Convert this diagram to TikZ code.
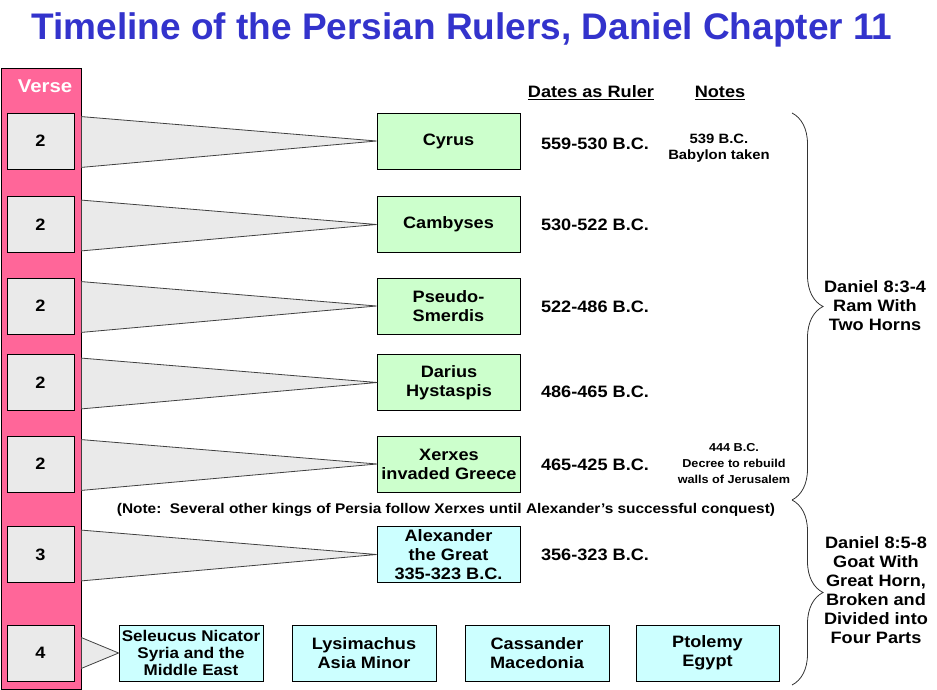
\documentclass[tikz,border=0pt]{standalone}
\usepackage{fontspec}
\setmainfont[FakeStretch=1.1]{Liberation Sans}
\newfontfamily\titlefont{Liberation Sans}
\usetikzlibrary{decorations.pathreplacing}
\usetikzlibrary{calc}

\definecolor{versepink}{RGB}{255,102,153}
\definecolor{versegray}{RGB}{234,234,234}
\definecolor{persgreen}{RGB}{204,255,204}
\definecolor{greekcyan}{RGB}{204,255,255}
\definecolor{titleblue}{RGB}{51,51,204}

\tikzset{
  versebox/.style={draw, fill=versegray, line width=0.8pt, minimum width=67pt, minimum height=56pt, inner sep=0pt, font=\fontsize{16.5}{19}\selectfont\bfseries},
  ruler/.style={draw, fill=persgreen, line width=0.8pt, minimum width=143pt, minimum height=56pt, inner sep=0pt, align=center, font=\fontsize{16.5}{19}\selectfont\bfseries},
  greek/.style={ruler, fill=greekcyan},
  horn/.style={fill=versegray, draw=black!75, line width=0.8pt},
  dates/.style={inner sep=0pt, font=\fontsize{16.5}{19}\selectfont\bfseries},
  remark/.style={inner sep=0pt, align=center, font=\fontsize{12}{16}\selectfont\bfseries},
  bracket/.style={decorate, decoration={brace, amplitude=31pt}, draw=black!80, line width=0.8pt},
}

\begin{document}
\begin{tikzpicture}[x=1pt, y=-1pt]
\useasboundingbox (0,0) rectangle (937,690);
\node[anchor=base, inner sep=0pt, text=titleblue, font=\titlefont\fontsize{37}{40}\selectfont\bfseries] (title) at (462,40) {Timeline of the Persian Rulers, Daniel Chapter 11};

% verse column
\node[draw, fill=versepink, line width=0.8pt, minimum width=80pt, minimum height=621pt, inner sep=0pt] (col) at (41,378.5) {};
\node[text=white, font=\fontsize{18.5}{20}\selectfont\bfseries] (verse) at (45,86) {Verse};
\foreach \y/\n [count=\i] in {141/2, 224.5/2, 306/2, 382.5/2, 464/2, 554.5/3, 653/4}
  \node[versebox] (v\i) at (40.5,\y) {\n};

% rulers
\node[ruler] (r1) at (448.5,141) {Cyrus};
\node[ruler] (r2) at (448.5,224.5) {Cambyses};
\node[ruler] (r3) at (448.5,306) {Pseudo-\\Smerdis};
\node[ruler] (r4) at (449,382.5) {Darius\\Hystaspis};
\node[ruler] (r5) at (449,464) {Xerxes\\invaded Greece};
\node[greek] (r6) at (448.5,554.5) {Alexander\\the Great\\335-323 B.C.};

\node[greek, minimum width=144pt, font=\fontsize{15.5}{17}\selectfont\bfseries] (s1) at (191,653) {Seleucus Nicator\\Syria and the\\Middle East};
\node[greek, minimum width=144pt] (s2) at (364,653) {Lysimachus\\Asia Minor};
\node[greek, minimum width=144pt] (s3) at (537,653) {Cassander\\Macedonia};
\node[greek] (s4) at (707.5,653) {Ptolemy\\Egypt};

% horns from the verses
\foreach \i in {1,...,6}
  \filldraw[horn] ($(v\i.north -| col.east)+(0,4)$) -- (r\i.west) -- ($(v\i.south -| col.east)+(0,-2)$) -- cycle;
\filldraw[horn] ($(v7.north -| col.east)+(0,13)$) -- (s1.west) -- ($(v7.south -| col.east)+(0,-13)$) -- cycle;

% dates and notes
\node[dates, anchor=base] (dhead) at (591,98) {\underline{Dates as Ruler}};
\node[dates, anchor=base] (nhead) at (720,98) {\underline{Notes}};
\node[dates] (d1) at (595,144) {559-530 B.C.};
\node[dates] (d2) at (595,224.5) {530-522 B.C.};
\node[dates] (d3) at (595,307) {522-486 B.C.};
\node[dates] (d4) at (595,392) {486-465 B.C.};
\node[dates] (d5) at (595,465) {465-425 B.C.};
\node[dates] (d6) at (595,555) {356-323 B.C.};
\node[remark, font=\fontsize{13.5}{16}\selectfont\bfseries] (n1) at (719,148) {539 B.C.\\Babylon taken};
\node[remark, font=\fontsize{11.5}{16}\selectfont\bfseries] (n2) at (734,464) {444 B.C.\\Decree to rebuild\\walls of Jerusalem};
\node[remark, anchor=base, font=\fontsize{14}{16}\selectfont\bfseries] (gap) at (446,513) {(Note:\ \ Several other kings of Persia follow Xerxes until Alexander's successful conquest)};

% prophecy braces
\coordinate (b1) at (792,113);
\coordinate (b2) at (792,500);
\coordinate (b3) at (792,685);
\draw[bracket] (b1) -- (b2);
\draw[bracket] (b2) -- (b3);
\node[dates, align=center] (ram) at (875,306) {Daniel 8:3-4\\Ram With\\Two Horns};
\node[dates, align=center] (goat) at (876,590) {Daniel 8:5-8\\Goat With\\Great Horn,\\Broken and\\Divided into\\Four Parts};
\end{tikzpicture}
\end{document}
